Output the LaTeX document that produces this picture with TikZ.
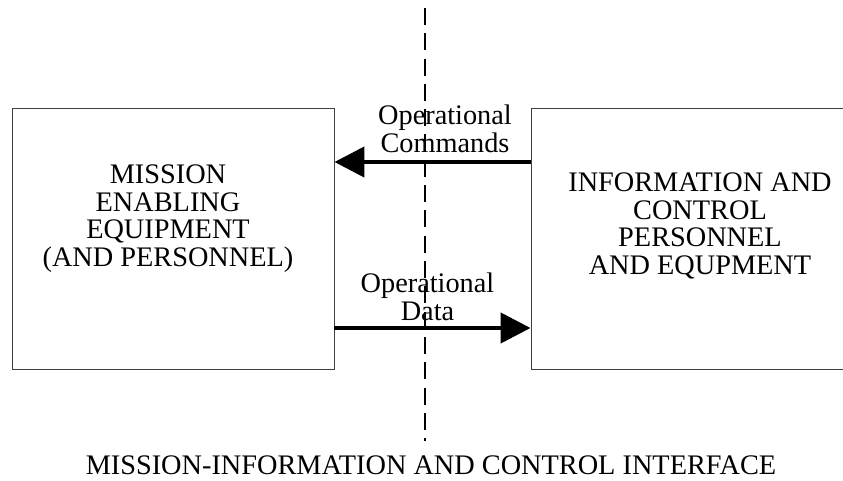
\documentclass[tikz,border=0pt]{standalone}
\usepackage{fontspec}
\setmainfont{Liberation Serif}
\usepackage{tikz}
\usetikzlibrary{positioning}
\usetikzlibrary{arrows.meta,calc}

\begin{document}
\begin{tikzpicture}[x=1pt, y=-1pt,
	box/.style={draw=black!75, line width=0.9pt, inner sep=0pt},
	txt/.style={align=center, inner sep=0pt, font=\fontsize{28.3}{27.5}\selectfont},
	flow/.style={line width=4.5pt, -{Triangle[length=30pt,width=30pt]}}]

	\useasboundingbox (0,0) rectangle (843,481);

	\def\ya{162};
	\def\yb{328};

	\node[box, minimum width=322pt, minimum height=261pt] (mission) at (173,238.5) {};
	\node[box, minimum width=338pt, minimum height=261pt] (info) at (700,238.5) {};

	\node[txt, anchor=north] (missiontxt) at (168,165) {MISSION\\ENABLING\\EQUIPMENT\\(AND PERSONNEL)};
	\node[txt, anchor=north] (infotxt) at (700,173) {INFORMATION AND\\CONTROL\\PERSONNEL\\AND EQUPMENT};

	\coordinate (cmd) at (0,\ya);
	\coordinate (dat) at (0,\yb);

	\draw[flow] (info.west |- cmd) -- node[txt, above=7pt, xshift=12.5pt] (cmdlbl) {Operational\\Commands} (mission.east |- cmd);
	\draw[flow] (mission.east |- dat) -- node[txt, above=5pt, xshift=-5pt] (datlbl) {Operational\\Data} (info.west |- dat);

	% interface line
	\coordinate (itop) at (425,8);
	\coordinate (ibot) at (425,441);
	\draw[line width=1.2pt, dash pattern=on 17pt off 8.3pt] (itop) -- (ibot);

	\node[txt, anchor=base] (caption) at (431,474) {MISSION-INFORMATION AND CONTROL INTERFACE};

\end{tikzpicture}
\end{document}
